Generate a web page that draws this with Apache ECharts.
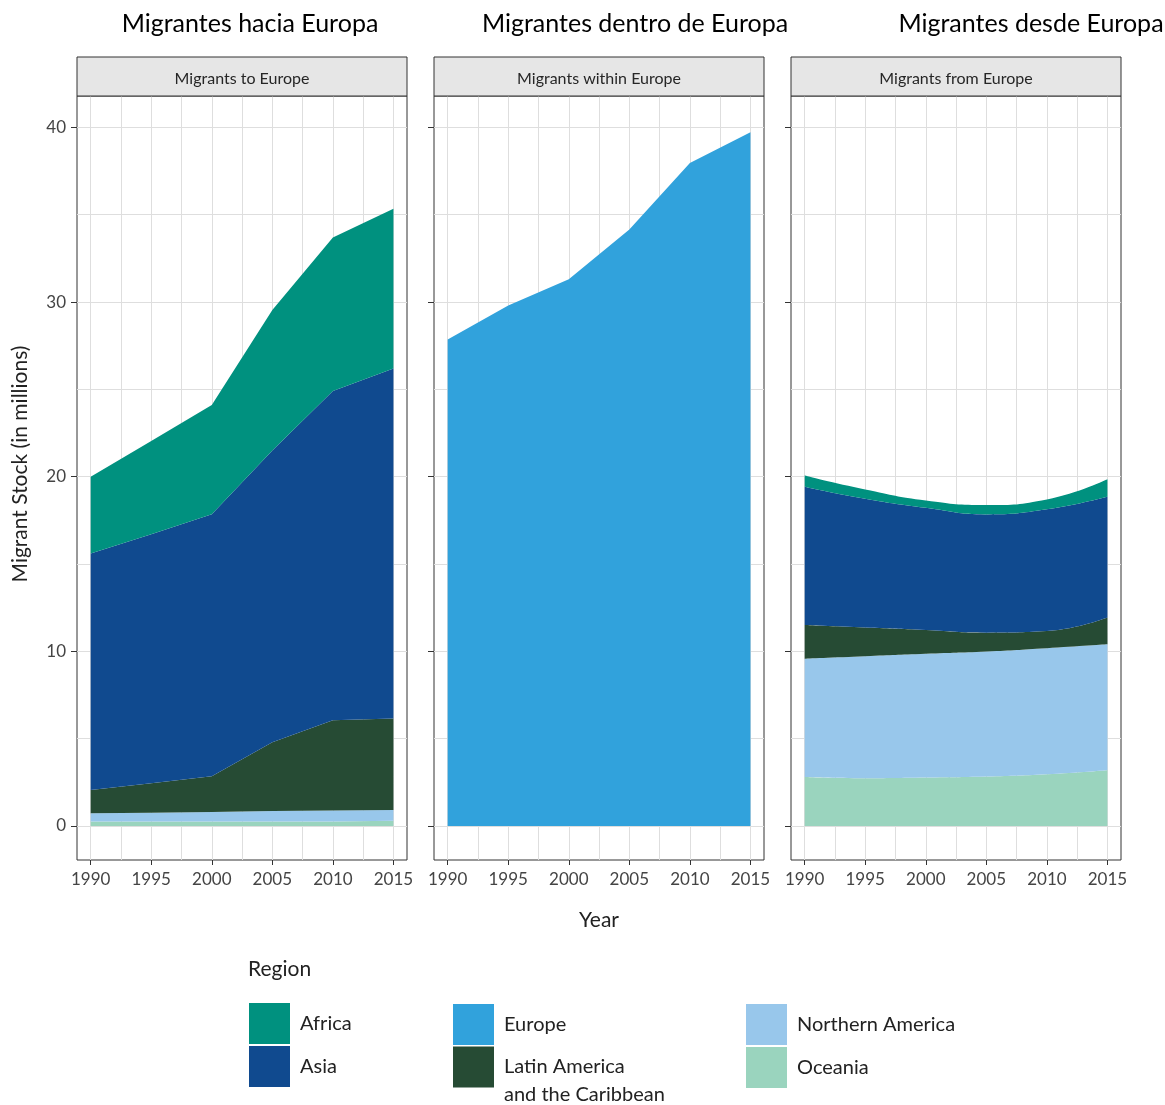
<!DOCTYPE html>
<html>
<head>
<meta charset="utf-8">
<script src="https://cdn.jsdelivr.net/npm/echarts@6/dist/echarts.min.js"></script>
<style>html,body{margin:0;padding:0;background:#fff}#c{width:1165px;height:1105px}</style>
</head>
<body>
<div id="c"></div>
<script>
// ---- data ----
const years = [1990, 1995, 2000, 2005, 2010, 2015];
const majorYearTicks = [1990, 1995, 2000, 2005, 2010, 2015];
const minorYearLines = [1992.5, 1997.5, 2002.5, 2007.5, 2012.5];
const yTicks = [0, 10, 20, 30, 40];
const yMinorLines = [5, 15, 25, 35];
const panelTitles = ['Migrantes hacia Europa', 'Migrantes dentro de Europa', 'Migrantes desde Europa'];
const stripLabels = ['Migrants to Europe', 'Migrants within Europe', 'Migrants from Europe'];
const regions = ['Oceania', 'Northern America', 'Latin America and the Caribbean', 'Asia', 'Africa'];

// Migrants to Europe (millions), by region of origin
const toOceania = [0.25, 0.25, 0.25, 0.25, 0.25, 0.30];
const toNorthAm = [0.48, 0.51, 0.55, 0.60, 0.63, 0.62];
const toLatAm   = [1.33, 1.69, 2.05, 3.95, 5.17, 5.23];
const toAsia    = [13.54, 14.25, 15.00, 16.70, 18.85, 20.05];
const toAfrica  = [4.40, 5.35, 6.25, 8.05, 8.80, 9.15];
// Migrants within Europe
const withinEurope = [27.86, 29.80, 31.30, 34.15, 37.97, 39.73];
// Migrants from Europe, by region of destination
const fromOceania = [2.80, 2.73, 2.77, 2.83, 2.96, 3.19];
const fromNorthAm = [6.78, 6.99, 7.09, 7.16, 7.22, 7.21];
const fromLatAm   = [1.92, 1.64, 1.36, 1.08, 0.98, 1.53];
const fromAsia    = [7.93, 7.38, 7.00, 6.77, 6.97, 6.92];
const fromAfrica  = [0.64, 0.53, 0.42, 0.54, 0.57, 1.00];

// ---- styling ----
const FONT = 'Lato';
const colors = {
  'Africa': '#00917F',
  'Asia': '#104A8F',
  'Europe': '#31A2DC',
  'Latin America and the Caribbean': '#264B34',
  'Northern America': '#98C7EB',
  'Oceania': '#9AD4BE'
};
const panelLeft = [77, 434, 791];
const panelW = 330, panelTop = 96, panelH = 764, stripTop = 57;
const xMin = 1988.87, xMax = 2016.12, yMin = -1.95, yMax = 41.8;
const gridColor = '#dedede';

const grids = [], xAxes = [], yAxes = [], series = [], graphics = [];
panelLeft.forEach((l, i) => {
  grids.push({left: l, top: panelTop, width: panelW, height: panelH, show: true,
    borderColor: '#333', borderWidth: 1, backgroundColor: 'transparent', containLabel: false});
  // primary x axis: labels, ticks, major grid lines
  xAxes.push({type: 'value', gridIndex: i, min: xMin, max: xMax, position: 'bottom',
    axisLine: {show: false, onZero: false},
    axisTick: {show: true, length: 5, lineStyle: {color: '#333'}, customValues: majorYearTicks},
    axisLabel: {customValues: majorYearTicks, formatter: v => String(v), color: '#444', fontSize: 17, fontFamily: FONT, margin: 11},
    splitLine: {show: true, lineStyle: {color: gridColor, width: 1}},
    name: i === 1 ? 'Year' : '', nameLocation: 'middle', nameGap: 50,
    nameTextStyle: {fontSize: 21, fontFamily: FONT, color: '#222'}
  });
  // secondary x axis: minor grid lines only
  xAxes.push({type: 'value', gridIndex: i, min: xMin, max: xMax, position: 'bottom',
    axisLine: {show: false, onZero: false},
    axisTick: {show: false, customValues: minorYearLines},
    axisLabel: {show: false},
    splitLine: {show: true, lineStyle: {color: gridColor, width: 1}}
  });
  yAxes.push({type: 'value', gridIndex: i, min: yMin, max: yMax, position: 'left',
    axisLine: {show: false, onZero: false},
    axisTick: {show: true, length: 6, lineStyle: {color: '#333'}, customValues: yTicks},
    axisLabel: {show: i === 0, customValues: yTicks, formatter: v => String(v), color: '#444', fontSize: 17, fontFamily: FONT, margin: 11},
    splitLine: {show: true, lineStyle: {color: gridColor, width: 1}}
  });
  yAxes.push({type: 'value', gridIndex: i, min: yMin, max: yMax, position: 'left',
    axisLine: {show: false, onZero: false},
    axisTick: {show: false, customValues: yMinorLines},
    axisLabel: {show: false},
    splitLine: {show: true, lineStyle: {color: gridColor, width: 1}}
  });
  // strip header
  graphics.push({type: 'rect', shape: {x: l, y: stripTop, width: panelW, height: panelTop - stripTop},
    style: {fill: '#e6e6e6', stroke: '#333', lineWidth: 1}, z: 10});
  graphics.push({type: 'text', x: l + panelW / 2, y: (stripTop + panelTop) / 2 + 2,
    style: {text: stripLabels[i], align: 'center', verticalAlign: 'middle', fontSize: 16, fontFamily: FONT, fill: '#262626'}, z: 11});
});

const titleCenters = [250, 635, 1031];
panelTitles.forEach((t, i) => {
  graphics.push({type: 'text', x: titleCenters[i], y: 24,
    style: {text: t, align: 'center', verticalAlign: 'middle', fontSize: 25, fontFamily: FONT, fill: '#000'}});
});
graphics.push({type: 'text', x: 20, y: 464, rotation: Math.PI / 2,
  style: {text: 'Migrant Stock (in millions)', align: 'center', verticalAlign: 'middle', fontSize: 21, fontFamily: FONT, fill: '#222'}});
graphics.push({type: 'text', x: 248, y: 969,
  style: {text: 'Region', align: 'left', verticalAlign: 'middle', fontSize: 21, fontFamily: FONT, fill: '#222'}});

// data rows are [value, year]; encode maps year to x so the stack runs on the value
function addArea(panel, name, vals, smooth) {
  series.push({
    name: name, type: 'line', stack: 'p' + panel,
    xAxisIndex: panel * 2, yAxisIndex: panel * 2,
    data: years.map((y, k) => [vals[k], y]),
    encode: {x: 1, y: 0},
    smooth: smooth ? 0.5 : false,
    showSymbol: false, symbol: 'none',
    lineStyle: {width: 0},
    itemStyle: {color: colors[name]},
    areaStyle: {color: colors[name], opacity: 1},
    emphasis: {disabled: true},
    silent: true
  });
}
const toVals = [toOceania, toNorthAm, toLatAm, toAsia, toAfrica];
const fromVals = [fromOceania, fromNorthAm, fromLatAm, fromAsia, fromAfrica];
regions.forEach((r, k) => addArea(0, r, toVals[k], false));
addArea(1, 'Europe', withinEurope, false);
regions.forEach((r, k) => addArea(2, r, fromVals[k], true));

const legendBase = {orient: 'vertical', itemWidth: 41, itemHeight: 41, itemGap: 2, icon: 'rect',
  selectedMode: false, padding: 0, height: 200, width: 300,
  itemStyle: {borderWidth: 0},
  textStyle: {fontSize: 20, fontFamily: FONT, color: '#222', padding: [0, 0, 0, 5]}
};
const leg = (o) => Object.assign({}, legendBase, o);

const chart = echarts.init(document.getElementById('c'), null, {renderer: 'canvas'});
chart.setOption({
  animation: false,
  backgroundColor: '#fff',
  grid: grids, xAxis: xAxes, yAxis: yAxes, series: series,
  legend: [
    leg({left: 249, top: 1003, data: ['Africa', 'Asia']}),
    leg({left: 453, top: 1004, data: ['Europe']}),
    leg({left: 453, top: 1025, data: ['Latin America and the Caribbean'],
      formatter: () => '\nLatin America\nand the Caribbean',
      textStyle: {fontSize: 20, fontFamily: FONT, color: '#222', lineHeight: 28, padding: [0, 0, 0, 5]}}),
    leg({left: 746, top: 1004, data: ['Northern America', 'Oceania']})
  ],
  graphic: graphics
});
</script>
</body>
</html>
